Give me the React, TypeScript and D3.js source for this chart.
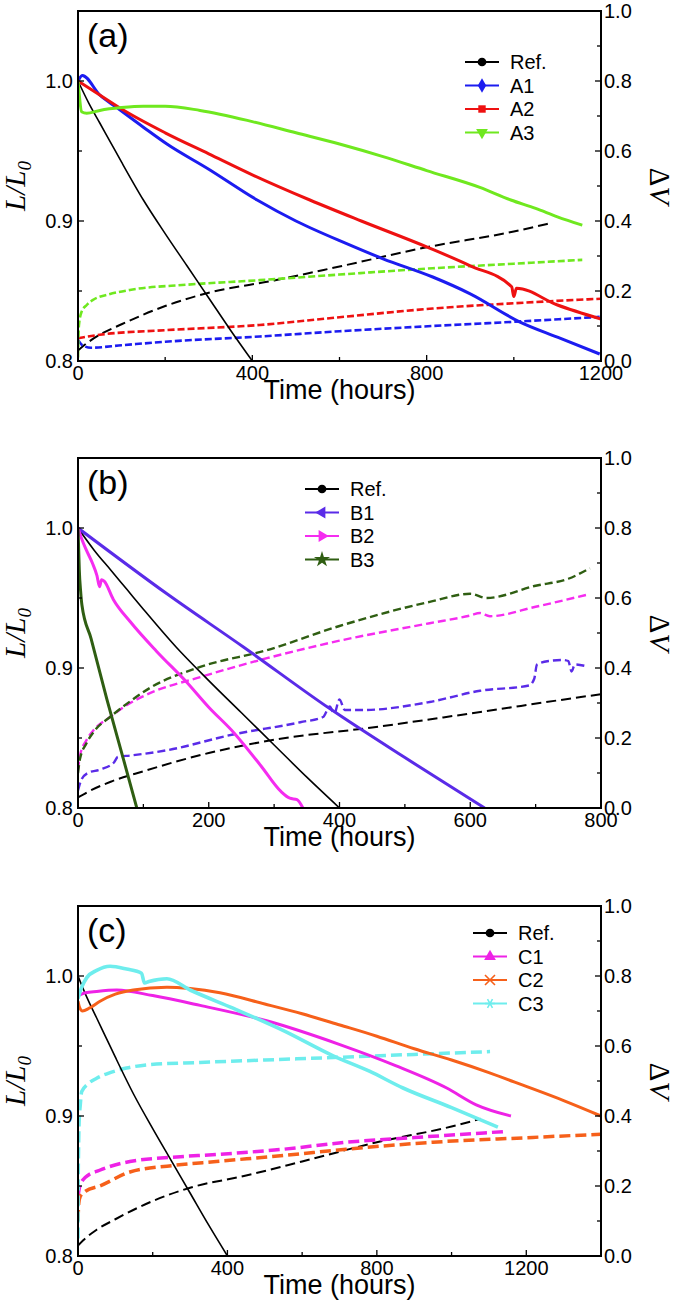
import React from 'react';
import * as d3 from 'd3';

type P = [number, number];

// ---------- shared reference cell ----------
const refL: P[] = [[0,1.0],[25,0.984],[50,0.97],[75,0.956],[100,0.942],[150,0.915],[200,0.891],[250,0.868],[300,0.845],[350,0.822],[400,0.8]];
const refDV: P[] = [[0,0.03],[14,0.045],[50,0.075],[100,0.105],[200,0.157],[300,0.195],[450,0.23],[600,0.27],[800,0.325],[1000,0.37],[1078,0.392]];

// ---------- panel (a) ----------
const a1L: P[] = [[0,1.0],[10,1.004],[50,0.99],[89,0.981],[150,0.967],[204,0.955],[300,0.937],[411,0.915],[500,0.9],[615,0.884],[700,0.873],[814,0.86],[900,0.848],[1013,0.828],[1100,0.817],[1197,0.805]];
const a2L: P[] = [[0,1.0],[50,0.99],[100,0.98],[200,0.963],[300,0.948],[400,0.933],[532,0.915],[650,0.9],[804,0.881],[900,0.868],[995,0.853],[1000,0.846],[1006,0.852],[1100,0.84],[1200,0.83]];
const a3L: P[] = [[0,1.0],[3,0.99],[8,0.978],[20,0.977],[50,0.979],[100,0.981],[150,0.982],[200,0.982],[280,0.979],[400,0.971],[500,0.963],[600,0.955],[700,0.946],[800,0.936],[922,0.924],[993,0.915],[1050,0.909],[1100,0.903],[1157,0.897]];
const a1DV: P[] = [[0,0.06],[10,0.045],[30,0.038],[100,0.045],[200,0.055],[417,0.07],[600,0.085],[814,0.1],[1000,0.112],[1197,0.126]];
const a2DV: P[] = [[0,0.065],[50,0.075],[200,0.088],[417,0.103],[600,0.125],[814,0.15],[1000,0.165],[1200,0.178]];
const a3DV: P[] = [[0,0.01],[2,0.1],[8,0.14],[20,0.16],[35,0.175],[70,0.19],[119,0.203],[250,0.218],[417,0.231],[600,0.247],[814,0.265],[1000,0.278],[1157,0.289]];

// ---------- panel (b) ----------
const b1L: P[] = [[0,1.0],[136,0.953],[253,0.915],[385,0.871],[500,0.836],[622,0.8]];
const b2L: P[] = [[0,1.0],[5,0.993],[13,0.984],[22,0.975],[29,0.966],[33,0.958],[36,0.963],[40,0.962],[54,0.949],[80,0.933],[120,0.912],[166,0.89],[200,0.872],[238,0.854],[280,0.83],[310,0.812],[324,0.807],[335,0.806],[344,0.8]];
const b3L: P[] = [[0,1.0],[1,0.985],[2,0.97],[4,0.955],[6,0.945],[20,0.921],[44,0.878],[70,0.834],[90,0.8]];
const b1DV: P[] = [[0,0.05],[5,0.08],[15,0.1],[34,0.11],[55,0.13],[61,0.146],[80,0.15],[136,0.165],[237,0.21],[340,0.245],[375,0.26],[385,0.29],[392,0.27],[400,0.31],[408,0.28],[436,0.28],[538,0.303],[615,0.335],[690,0.35],[698,0.37],[702,0.41],[720,0.42],[742,0.423],[750,0.42],[755,0.39],[760,0.41],[778,0.405]];
const b2DV: P[] = [[0,0.11],[3,0.15],[13,0.194],[25,0.225],[49,0.26],[80,0.3],[110,0.328],[187,0.374],[289,0.428],[400,0.478],[538,0.528],[600,0.55],[615,0.557],[630,0.548],[700,0.575],[780,0.61]];
const b3DV: P[] = [[0,0.1],[3,0.14],[13,0.185],[25,0.22],[49,0.26],[80,0.305],[110,0.343],[187,0.403],[289,0.451],[400,0.52],[538,0.589],[600,0.612],[625,0.6],[700,0.635],[750,0.655],[783,0.685]];

// ---------- panel (c) ----------
const c1L: P[] = [[0,0.986],[20,0.988],[50,0.989],[104,0.99],[200,0.986],[327,0.979],[505,0.968],[701,0.951],[850,0.936],[987,0.92],[1066,0.908],[1159,0.9]];
const c2L: P[] = [[0,0.982],[5,0.977],[12,0.975],[30,0.977],[59,0.982],[100,0.987],[148,0.99],[238,0.992],[300,0.991],[380,0.988],[500,0.98],[600,0.973],[701,0.965],[800,0.957],[900,0.948],[1000,0.94],[1100,0.931],[1191,0.922],[1300,0.911],[1400,0.9]];
const c3L: P[] = [[0,0.984],[10,0.992],[24,0.999],[50,1.004],[86,1.007],[130,1.005],[170,1.002],[178,0.995],[190,0.996],[238,0.998],[300,0.99],[415,0.977],[550,0.961],[683,0.943],[780,0.932],[870,0.92],[1000,0.906],[1124,0.892]];
const c1DV: P[] = [[0,0.17],[5,0.2],[20,0.225],[58,0.245],[139,0.27],[250,0.282],[370,0.29],[550,0.305],[718,0.325],[850,0.335],[950,0.342],[1147,0.356]];
const c2DV: P[] = [[0,0.1],[2,0.15],[6,0.17],[20,0.185],[58,0.2],[139,0.24],[250,0.258],[370,0.27],[550,0.287],[718,0.305],[950,0.325],[1200,0.338],[1400,0.348]];
const c3DV: P[] = [[0,0.05],[0.5,0.2],[1.5,0.3],[3,0.38],[6,0.43],[10,0.47],[25,0.49],[50,0.508],[86,0.524],[130,0.537],[193,0.547],[327,0.553],[500,0.56],[683,0.567],[900,0.576],[1103,0.584]];

const legendA = ['Ref.', 'A1', 'A2', 'A3'];
const legendB = ['Ref.', 'B1', 'B2', 'B3'];
const legendC = ['Ref.', 'C1', 'C2', 'C3'];

const leftMajor = [0.8, 0.9, 1.0];
const leftMinor = [0.85, 0.95];
const rightMajor = [0, 0.2, 0.4, 0.6, 0.8, 1.0];
const rightMinor = [0.1, 0.3, 0.5, 0.7, 0.9];

type Series = { name: string; color: string; L: P[]; DV: P[]; marker: string; solidW: number; dashW: number; dash: string; };

const X0 = 78, X1 = 601, PH = 350;
const SANS = '"Liberation Sans", Arial, Helvetica, sans-serif';
const SERIF = '"Liberation Serif", "Times New Roman", serif';

function markerPath(kind: string): { d: string; fill: boolean; rot: number } {
  const sym = (t: any, s: number) => d3.symbol().type(t).size(s)() as string;
  switch (kind) {
    case 'circle': return { d: sym(d3.symbolCircle, 60), fill: true, rot: 0 };
    case 'diamond': return { d: sym(d3.symbolDiamond, 60), fill: true, rot: 0 };
    case 'square': return { d: sym(d3.symbolSquare, 55), fill: true, rot: 0 };
    case 'triDown': return { d: sym(d3.symbolTriangle, 60), fill: true, rot: 180 };
    case 'triUp': return { d: sym(d3.symbolTriangle, 60), fill: true, rot: 0 };
    case 'triLeft': return { d: sym(d3.symbolTriangle, 60), fill: true, rot: -90 };
    case 'triRight': return { d: sym(d3.symbolTriangle, 60), fill: true, rot: 90 };
    case 'star': return { d: sym(d3.symbolStar, 80), fill: true, rot: 0 };
    case 'x': return { d: 'M-5,-5L5,5M-5,5L5,-5', fill: false, rot: 0 };
    case 'asterisk': return { d: 'M-5,0L5,0M-2.5,-4.3L2.5,4.3M-2.5,4.3L2.5,-4.3', fill: false, rot: 0 };
  }
  return { d: '', fill: true, rot: 0 };
}

function Panel({ id, top, xMax, xMajor, xMinor, label, series, legendX, legendY, legendNames }:
  { id: string; top: number; xMax: number; xMajor: number; xMinor: number; label: string; series: Series[]; legendX: number; legendY: number; legendNames: string[] }) {
  const bottom = top + PH;
  const x = d3.scaleLinear().domain([0, xMax]).range([X0, X1]);
  const yL = d3.scaleLinear().domain([0.8, 1.05]).range([bottom, top]);
  const yR = d3.scaleLinear().domain([0, 1]).range([bottom, top]);
  const lineL = d3.line<P>().x(d => x(d[0])).y(d => yL(d[1])).curve(d3.curveMonotoneX);
  const lineR = d3.line<P>().x(d => x(d[0])).y(d => yR(d[1])).curve(d3.curveMonotoneX);
  const xMajTicks = d3.range(0, xMax + 1, xMajor);
  const xMinTicks = d3.range(xMinor, xMax, xMajor);
  const fmt = d3.format('.1f');
  const midY = (top + bottom) / 2;
  return (
    <g>
      <defs>
        <clipPath id={'clip' + id}><rect x={X0} y={top} width={X1 - X0} height={PH} /></clipPath>
      </defs>
      <g clipPath={`url(#clip${id})`}>
        {series.map(s => (
          <path key={s.name + 'dv'} d={lineR(s.DV) || ''} fill="none" stroke={s.color} strokeWidth={s.dashW} strokeDasharray={s.dash} />
        ))}
        {series.map(s => (
          <path key={s.name + 'l'} d={lineL(s.L) || ''} fill="none" stroke={s.color} strokeWidth={s.solidW} strokeLinejoin="round" />
        ))}
      </g>
      <rect x={X0} y={top} width={X1 - X0} height={PH} fill="none" stroke="#000" strokeWidth={2} />
      {xMajTicks.map(t => (
        <g key={'xM' + t}>
          <line x1={x(t)} x2={x(t)} y1={bottom} y2={bottom - 6} stroke="#000" strokeWidth={1.3} />
          <text x={x(t)} y={bottom + 19} fontSize={20} fontFamily={SANS} textAnchor="middle">{t}</text>
        </g>
      ))}
      {xMinTicks.map(t => (
        <line key={'xm' + t} x1={x(t)} x2={x(t)} y1={bottom} y2={bottom - 4} stroke="#000" strokeWidth={1.3} />
      ))}
      {leftMajor.map(v => (
        <g key={'lM' + v}>
          <line x1={X0} x2={X0 + 6} y1={yL(v)} y2={yL(v)} stroke="#000" strokeWidth={1.3} />
          <text x={X0 - 5} y={yL(v) + 7} fontSize={20} fontFamily={SANS} textAnchor="end">{fmt(v)}</text>
        </g>
      ))}
      {leftMinor.map(v => (
        <line key={'lm' + v} x1={X0} x2={X0 + 4} y1={yL(v)} y2={yL(v)} stroke="#000" strokeWidth={1.3} />
      ))}
      {rightMajor.map(v => (
        <g key={'rM' + v}>
          <line x1={X1} x2={X1 - 6} y1={yR(v)} y2={yR(v)} stroke="#000" strokeWidth={1.3} />
          <text x={X1 + 3} y={yR(v) + 7} fontSize={20} fontFamily={SANS} textAnchor="start">{fmt(v)}</text>
        </g>
      ))}
      {rightMinor.map(v => (
        <line key={'rm' + v} x1={X1} x2={X1 - 4} y1={yR(v)} y2={yR(v)} stroke="#000" strokeWidth={1.3} />
      ))}
      <text x={(X0 + X1) / 2} y={bottom + 38} fontSize={27} fontFamily={SANS} textAnchor="middle">Time (hours)</text>
      <text transform={`translate(25,${midY}) rotate(-90)`} fontSize={29} fontFamily={SERIF} fontStyle="italic" textAnchor="middle">
        L/L<tspan fontSize={19} dy={6}>0</tspan>
      </text>
      <text transform={`translate(650,${midY}) rotate(90)`} fontSize={29} fontFamily={SERIF} textAnchor="middle">
        Δ<tspan fontStyle="italic">V</tspan>
      </text>
      <text x={87} y={top + 36} fontSize={34} fontFamily={SANS}>{label}</text>
      {series.map((s, i) => {
        const ly = legendY + i * 23.5;
        const m = markerPath(s.marker);
        const cx = legendX + 17;
        return (
          <g key={'lg' + s.name}>
            <line x1={legendX} x2={legendX + 34} y1={ly} y2={ly} stroke={s.color} strokeWidth={2} />
            <path d={m.d} transform={`translate(${cx},${ly}) rotate(${m.rot})`} fill={m.fill ? s.color : 'none'} stroke={s.color} strokeWidth={m.fill ? 0 : 1.6} />
            <text x={legendX + 45} y={ly + 7} fontSize={20} fontFamily={SANS}>{legendNames[i]}</text>
          </g>
        );
      })}
    </g>
  );
}

export default function App() {
  const refA: Series = { name: 'ref', color: '#000', L: refL, DV: refDV, marker: 'circle', solidW: 1.6, dashW: 2, dash: '10,5' };
  const seriesA: Series[] = [
    refA,
    { name: 'a1', color: '#1c1cf0', L: a1L, DV: a1DV, marker: 'diamond', solidW: 3, dashW: 2.6, dash: '7,3' },
    { name: 'a2', color: '#ee1111', L: a2L, DV: a2DV, marker: 'square', solidW: 3, dashW: 2.6, dash: '7,3' },
    { name: 'a3', color: '#6fe81f', L: a3L, DV: a3DV, marker: 'triDown', solidW: 3, dashW: 2.6, dash: '7,3' },
  ];
  const seriesB: Series[] = [
    refA,
    { name: 'b1', color: '#5a2be8', L: b1L, DV: b1DV, marker: 'triLeft', solidW: 3, dashW: 2.4, dash: '8,4' },
    { name: 'b2', color: '#f52cf0', L: b2L, DV: b2DV, marker: 'triRight', solidW: 3, dashW: 2.4, dash: '8,4' },
    { name: 'b3', color: '#2f5e12', L: b3L, DV: b3DV, marker: 'star', solidW: 3, dashW: 2.4, dash: '8,4' },
  ];
  const seriesC: Series[] = [
    refA,
    { name: 'c1', color: '#ee22e6', L: c1L, DV: c1DV, marker: 'triUp', solidW: 3, dashW: 3.5, dash: '11,5' },
    { name: 'c2', color: '#f6601a', L: c2L, DV: c2DV, marker: 'x', solidW: 3, dashW: 3.5, dash: '11,5' },
    { name: 'c3', color: '#6eeded', L: c3L, DV: c3DV, marker: 'asterisk', solidW: 3.6, dashW: 3.5, dash: '11,5' },
  ];
  return (
    <svg width={675} height={1312} style={{ position: 'absolute', left: 0, top: 0, background: '#fff' }}>
      <rect width={675} height={1312} fill="#fff" />
      <Panel id="a" top={11} xMax={1200} xMajor={400} xMinor={200} label="(a)" series={seriesA} legendX={465} legendY={62} legendNames={legendA} />
      <Panel id="b" top={458} xMax={800} xMajor={200} xMinor={100} label="(b)" series={seriesB} legendX={305} legendY={489} legendNames={legendB} />
      <Panel id="c" top={906} xMax={1400} xMajor={400} xMinor={200} label="(c)" series={seriesC} legendX={473} legendY={933} legendNames={legendC} />
    </svg>
  );
}
